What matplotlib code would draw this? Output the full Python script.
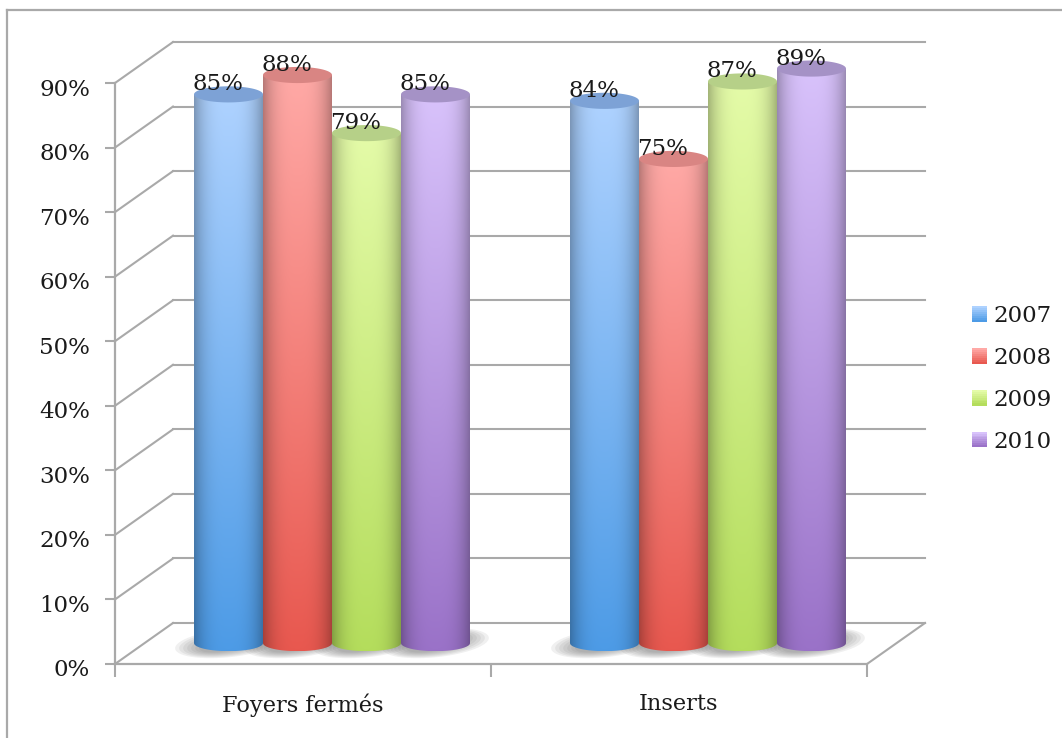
import matplotlib
matplotlib.use("Agg")
import matplotlib.pyplot as plt
import numpy as np
from matplotlib.colors import to_rgb
from matplotlib.legend_handler import HandlerBase
from matplotlib.patches import Patch, PathPatch, Polygon, Rectangle
from matplotlib.path import Path
from matplotlib.transforms import ScaledTranslation

plt.rcParams['font.family'] = ['DejaVu Serif']

categories = ['Foyers fermés', 'Inserts']
years = ['2007', '2008', '2009', '2010']
values = {
    '2007': [85, 84],
    '2008': [88, 75],
    '2009': [79, 87],
    '2010': [85, 89],
}
y_ticks = [0, 10, 20, 30, 40, 50, 60, 70, 80, 90]

# colours per series: body top, body bottom, cylinder lid
body_top = {'2007': '#aed2ff', '2008': '#ffa9a6', '2009': '#e4fba8', '2010': '#d8c2fb'}
body_bottom = {'2007': '#4d9be6', '2008': '#e8584f', '2009': '#b4dd5c', '2010': '#9a72c8'}
lid = {'2007': '#7da2d6', '2008': '#d98583', '2009': '#b6d088', '2010': '#a592c6'}

GRID = '#a9a9a9'
TEXT = '#1a1a1a'
W, H = 1062, 738

# oblique depth of the box, in data units
DEPTH_X = 58 / 376
DEPTH_Y = 41 / 6.456
BAR_W = 0.1835
LID_H = 2.5


def px_axes(fig, left, top, right, bottom):
    return fig.add_axes([left / W, 1 - bottom / H, (right - left) / W, (bottom - top) / H])


def gradient_body(ax, x0, x1, y0, y1, top, bottom):
    # cylinder side: vertical colour ramp with darker edges
    n = 120
    u = np.linspace(-1, 1, n)
    v = np.linspace(0, 1, n)
    side = 1 - 0.28 * np.abs(u) ** 3
    top = np.array(to_rgb(top))
    bottom = np.array(to_rgb(bottom))
    ramp = top[None, :] * (1 - v[:, None]) + bottom[None, :] * v[:, None]
    img = ramp[:, None, :] * side[None, :, None]
    im = ax.imshow(img, extent=(x0, x1, y0 - LID_H / 2, y1), origin='upper',
                   aspect='auto', zorder=4, interpolation='bilinear')
    t = np.linspace(np.pi, 2 * np.pi, 40)
    xm, xr = (x0 + x1) / 2, (x1 - x0) / 2
    bx = xm + xr * np.cos(t)
    by = y0 + LID_H / 2 * np.sin(t)
    px = np.concatenate([[x0], bx, [x1, x0]])
    py = np.concatenate([[y1], by, [y1, y1]])
    clip = PathPatch(Path(np.column_stack([px, py])), transform=ax.transData)
    im.set_clip_path(clip)
    # tops of the tallest bars go past the axes box
    im.set_clip_box(ax.figure.bbox)


def ellipse_pts(cx, cy, rx, ry, shear=0.0):
    t = np.linspace(0, 2 * np.pi, 60)
    c, s = np.cos(t), np.sin(t)
    return np.column_stack([cx + rx * c, cy + ry * s + shear * c])


class GradientSwatch(HandlerBase):
    def create_artists(self, legend, orig, xd, yd, width, height, fontsize, trans):
        year = orig.get_label()
        top = np.array(to_rgb(body_top[year]))
        bot = np.array(to_rgb(body_bottom[year]))
        out = []
        steps = 8
        for i in range(steps):
            f = i / (steps - 1)
            r = Rectangle((-xd, -yd + height * (1 - (i + 1) / steps)), width, height / steps + 0.2,
                          facecolor=top * (1 - f) + bot * f, edgecolor='none', transform=trans)
            out.append(r)
        return out


fig = plt.figure(figsize=(W / 100, H / 100), dpi=100, facecolor='white')

# outer chart frame, top and left edges only
fig.add_artist(plt.Line2D([7 / W, 7 / W], [0, 1 - 10 / H], color=GRID, lw=1.6))
fig.add_artist(plt.Line2D([7 / W, 1], [1 - 10 / H, 1 - 10 / H], color=GRID, lw=1.6))

ax = px_axes(fig, 115, 83, 867, 664)
ax.set_xlim(0, 2)
ax.set_ylim(0, 90)
ax.patch.set_alpha(0)

# back wall gridlines and slanted side wall
for t in y_ticks:
    ax.plot([DEPTH_X, 2 + DEPTH_X], [t + DEPTH_Y, t + DEPTH_Y], color=GRID, lw=1.5,
            clip_on=False, zorder=1)
    ax.plot([0, DEPTH_X], [t, t + DEPTH_Y], color=GRID, lw=1.5, clip_on=False, zorder=1)
ax.plot([2, 2 + DEPTH_X], [0, DEPTH_Y], color=GRID, lw=1.5, clip_on=False, zorder=1)

ax.set_yticks(y_ticks)
ax.set_yticklabels(['%d%%' % t for t in y_ticks])
ax.set_xticks([0, 1, 2])
ax.set_xticklabels(['', '', ''])
ax.set_xticks([0.5, 1.5], minor=True)
ax.set_xticklabels(categories, minor=True)
ax.tick_params(axis='y', length=7, width=1.5, color=GRID, pad=11, labelsize=16.5, labelcolor=TEXT)
ax.tick_params(axis='x', which='major', length=9, width=1.5, color=GRID)
ax.tick_params(axis='x', which='minor', length=0, pad=21, labelsize=16.2, labelcolor=TEXT)
for name in ['top', 'right']:
    ax.spines[name].set_visible(False)
for name in ['left', 'bottom']:
    ax.spines[name].set_color(GRID)
    ax.spines[name].set_linewidth(1.6)

# value axis labels sit a little under their ticks
label_shift = ScaledTranslation(0, -4 / 100, fig.dpi_scale_trans)
for label in ax.get_yticklabels():
    label.set_transform(label.get_transform() + label_shift)

# bars stand half way into the box depth
base_y = DEPTH_Y / 2 * 1.02
for c in range(len(categories)):
    centre = c + 0.5 + DEPTH_X / 2
    for i, year in enumerate(years):
        xc = centre + (i - 1.5) * BAR_W
        # soft floor shadow, stacked translucent layers
        for k in np.linspace(1, 0.55, 7):
            ax.add_patch(Polygon(ellipse_pts(xc, base_y, 0.142 * k, 2.2 * k, shear=0.8),
                                 facecolor='#6e6e6e', edgecolor='none', alpha=0.1,
                                 zorder=2, clip_on=False))

for c in range(len(categories)):
    centre = c + 0.5 + DEPTH_X / 2
    for i, year in enumerate(years):
        val = values[year][c]
        xc = centre + (i - 1.5) * BAR_W
        x0, x1 = xc - BAR_W / 2, xc + BAR_W / 2
        top_y = base_y + val
        gradient_body(ax, x0, x1, base_y, top_y, body_top[year], body_bottom[year])
        ax.add_patch(Polygon(ellipse_pts(xc, top_y, BAR_W / 2, LID_H / 2),
                             facecolor=lid[year], edgecolor='none', zorder=4.1,
                             clip_on=False))
        # value labels sit left of the bar centre
        ax.text(xc - 0.028, top_y + 1.55, '%d%%' % val, ha='center', va='center', fontsize=16.5,
                color=TEXT, zorder=6, clip_on=False)

# imshow resets the limits, so restore them
ax.set_xlim(0, 2)
ax.set_ylim(0, 90)

handles = [Patch(label=y) for y in years]
leg = fig.legend(handles=handles, labels=years, loc='center left',
                 bbox_to_anchor=(972 / W, 1 - 379 / H), frameon=False, fontsize=16.5,
                 handler_map={Patch: GradientSwatch()}, handlelength=0.66, handleheight=0.66,
                 handletextpad=0.26, labelspacing=0.865, borderpad=0, borderaxespad=0,
                 labelcolor=TEXT)

fig.savefig('out.png', dpi=100)
